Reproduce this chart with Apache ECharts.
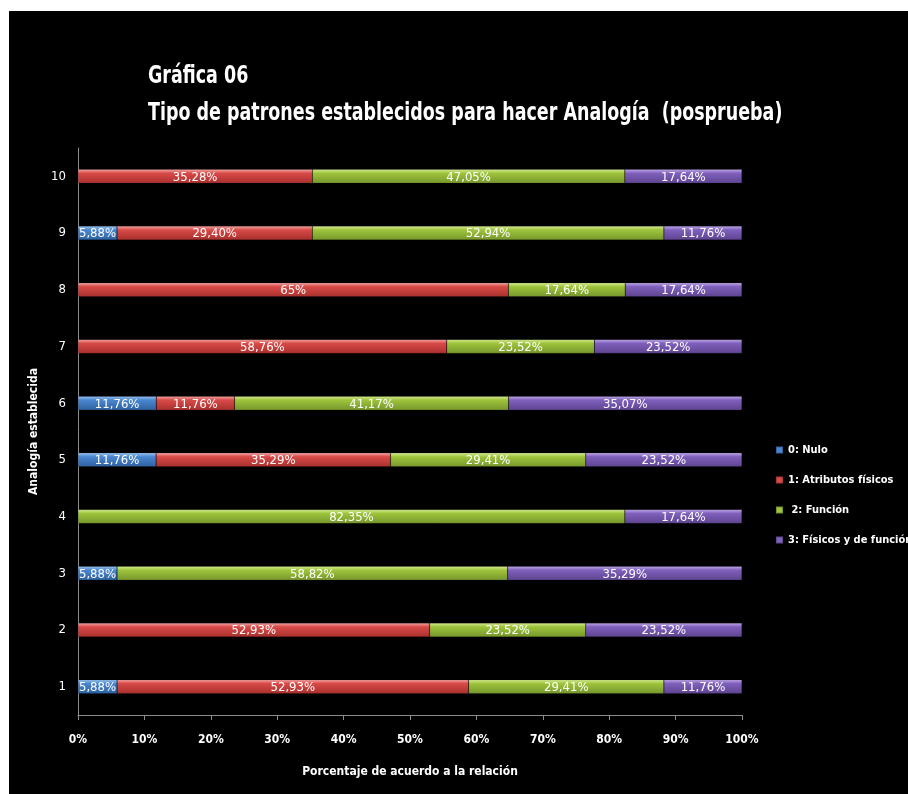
<!DOCTYPE html>
<html>
<head>
<meta charset="utf-8">
<script src="https://cdn.jsdelivr.net/npm/echarts@6/dist/echarts.min.js"></script>
<style>
  html, body { margin: 0; padding: 0; background: #ffffff; }
  #chart { position: absolute; left: 9px; top: 11px; width: 899px; height: 783px; background: #000000; }
</style>
</head>
<body>
<div id="chart"></div>
<script>
// Analogías 1..10 (de abajo hacia arriba)
const categories = ['1', '2', '3', '4', '5', '6', '7', '8', '9', '10'];
const xTickLabels = ['0%', '10%', '20%', '30%', '40%', '50%', '60%', '70%', '80%', '90%', '100%'];
const seriesNames = ['0: Nulo', '1: Atributos físicos', ' 2: Función', '3: Físicos y de función'];
const titleLines = ['Gráfica 06', 'Tipo de patrones establecidos para hacer Analogía  (posprueba)'];

// Porcentajes por patrón, en el orden de categories
const nulo      = [5.88, 0,     5.88,  0,     11.76, 11.76, 0,     0,     5.88,  0];
const atributos = [52.93, 52.93, 0,    0,     35.29, 11.76, 58.76, 65,    29.40, 35.28];
const funcion   = [29.41, 23.52, 58.82, 82.35, 29.41, 41.17, 23.52, 17.64, 52.94, 47.05];
const ambos     = [11.76, 23.52, 35.29, 17.64, 23.52, 35.07, 23.52, 17.64, 11.76, 17.64];

const rawSeries = [nulo, atributos, funcion, ambos];
const palette = [
  ['#9cc6f2', '#4a86d0', '#2e619f'],
  ['#f6aaa8', '#d84a48', '#a8302d'],
  ['#d8ee96', '#9ec43c', '#76962c'],
  ['#c2aaea', '#7f60bc', '#5e4490']
];

// Each bar is stacked to 100 %: segment length = share of the row total
const rowTotals = categories.map((_, i) => rawSeries.reduce((s, arr) => s + arr[i], 0));

function fmt(v) {
  const s = Number.isInteger(v) ? String(v) : v.toFixed(2).replace('.', ',');
  return s + '%';
}

const FONT = '"DejaVu Sans Condensed", "Liberation Sans Narrow", "Open Sans", sans-serif';

const series = rawSeries.map((arr, k) => ({
  name: seriesNames[k],
  type: 'bar',
  stack: 'total',
  barWidth: 14,
  data: arr.map((v, i) => ({
    value: v === 0 ? null : v / rowTotals[i] * 100,
    raw: v
  })),
  itemStyle: {
    color: new echarts.graphic.LinearGradient(0, 0, 0, 1, [
      { offset: 0, color: palette[k][0] },
      { offset: 0.28, color: palette[k][1] },
      { offset: 1, color: palette[k][2] }
    ]),
    borderColor: 'rgba(0,0,0,0.25)',
    borderWidth: 0.5
  },
  label: {
    show: true,
    position: 'inside',
    offset: [0, 1],
    color: '#ffffff',
    fontFamily: FONT,
    fontSize: 13,
    formatter: p => fmt(p.data.raw)
  }
}));

const chart = echarts.init(document.getElementById('chart'), null, { renderer: 'canvas' });
chart.setOption({
  backgroundColor: '#000000',
  animation: false,
  // Two-line heading, drawn slightly condensed
  graphic: titleLines.map((t, i) => ({
    type: 'text',
    x: 139,
    y: 54 + i * 37,
    scaleX: 0.81,
    style: {
      text: t,
      fill: '#ffffff',
      font: 'bold 24px ' + FONT,
      textVerticalAlign: 'top'
    }
  })),
  legend: {
    orient: 'vertical',
    left: 761,
    top: 427,
    icon: 'rect',
    itemWidth: 7,
    itemHeight: 7,
    itemGap: 16,
    textStyle: {
      color: '#ffffff',
      fontFamily: FONT,
      fontWeight: 'bold',
      fontSize: 11,
      lineHeight: 14
    },
    data: seriesNames.map((n, k) => ({ name: n, itemStyle: { color: palette[k][1] } }))
  },
  grid: {
    left: 69,
    right: 166,
    top: 137,
    bottom: 79,
    containLabel: false
  },
  xAxis: {
    type: 'value',
    min: 0,
    max: 100,
    interval: 10,
    name: 'Porcentaje de acuerdo a la relación',
    nameLocation: 'middle',
    nameGap: 51,
    nameTextStyle: { color: '#ffffff', fontFamily: FONT, fontWeight: 'bold', fontSize: 12 },
    axisLine: { show: true, lineStyle: { color: '#8c8c8c', width: 1 } },
    axisTick: { show: true, length: 5, lineStyle: { color: '#8c8c8c' } },
    splitLine: { show: false },
    axisLabel: {
      color: '#ffffff',
      fontFamily: FONT,
      fontWeight: 'bold',
      fontSize: 12,
      margin: 19,
      formatter: v => xTickLabels[Math.round(v / 10)]
    }
  },
  yAxis: {
    type: 'category',
    data: categories,
    name: 'Analogía establecida',
    nameLocation: 'middle',
    nameGap: 38,
    nameRotate: 90,
    nameTextStyle: { color: '#ffffff', fontFamily: FONT, fontWeight: 'bold', fontSize: 12 },
    axisLine: { show: true, lineStyle: { color: '#8c8c8c', width: 1 } },
    axisTick: { show: false },
    axisLabel: { color: '#ffffff', fontFamily: FONT, fontSize: 13, margin: 12 }
  },
  series: series
});
</script>
</body>
</html>
